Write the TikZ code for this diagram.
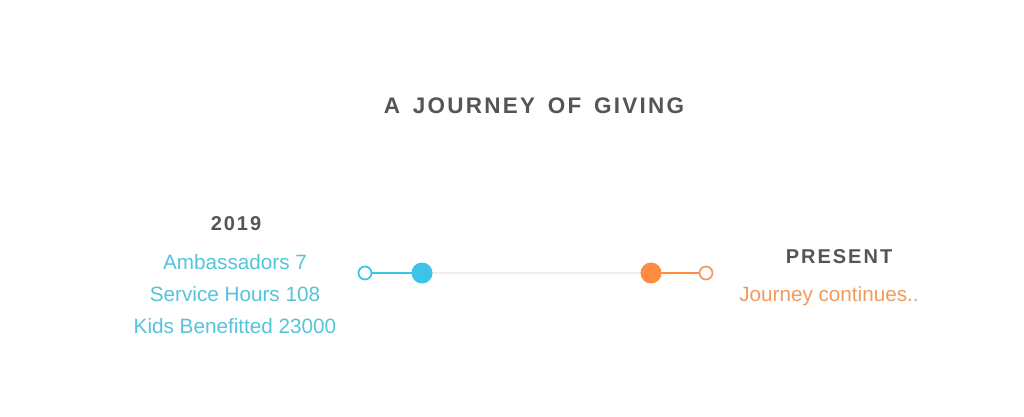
\documentclass[tikz,border=0pt]{standalone}
\usepackage{fontspec}
\setmainfont{Liberation Sans}
\newfontfamily\spacedfont[LetterSpace=10,WordSpace=1.5]{Liberation Sans}
\usetikzlibrary{positioning}

\definecolor{headgray}{HTML}{555555}
\definecolor{cyanblue}{HTML}{3CC3E8}
\definecolor{cyantext}{HTML}{55C3DA}
\definecolor{orangedot}{HTML}{FF8C42}
\definecolor{orangetext}{HTML}{F09A5E}
\definecolor{linegray}{HTML}{EEEEEE}

\begin{document}
\begin{tikzpicture}[x=1pt,y=-1pt,
    heading/.style={font=\spacedfont\bfseries\fontsize{20}{24}\selectfont, text=headgray, inner sep=0pt},
    info/.style={font=\fontsize{20.7}{24}\selectfont, inner sep=0pt},
    ring/.style={circle, draw, line width=1.7pt, fill=white, minimum size=13pt, inner sep=0pt},
    dot/.style={circle, minimum size=21pt, inner sep=0pt}]
    \useasboundingbox (0,0) rectangle (1024,416);

    \node[heading, font=\spacedfont\bfseries\fontsize{22.5}{27}\selectfont] (title) at (534,106) {A JOURNEY OF GIVING};

    % timeline
    \coordinate (startring) at (365,273);
    \coordinate (enddot) at (706,273);
    \draw[linegray, line width=1.5pt] (422,273) -- (651,273);
    \draw[cyanblue, line width=1.7pt] (startring) -- (422,273);
    \draw[orangedot, line width=1.7pt] (651,273) -- (enddot);
    \node[ring, draw=cyanblue] (ringa) at (startring) {};
    \node[dot, fill=cyanblue] (dota) at (422,273) {};
    \node[dot, fill=orangedot] (dotb) at (651,273) {};
    \node[ring, draw=orangetext] (ringb) at (enddot) {};

    % left side
    \node[heading] (year) at (236,224) {2019};
    \node[info, text=cyantext] (amb) at (235,262) {Ambassadors 7};
    \node[info, text=cyantext] (hours) at (235,294) {Service Hours 108};
    \node[info, text=cyantext] (kids) at (235,326) {Kids Benefitted 23000};

    % right side
    \node[heading] (present) at (839,257) {PRESENT};
    \node[info, text=orangetext] (cont) at (829,296) {Journey continues..};
\end{tikzpicture}
\end{document}
